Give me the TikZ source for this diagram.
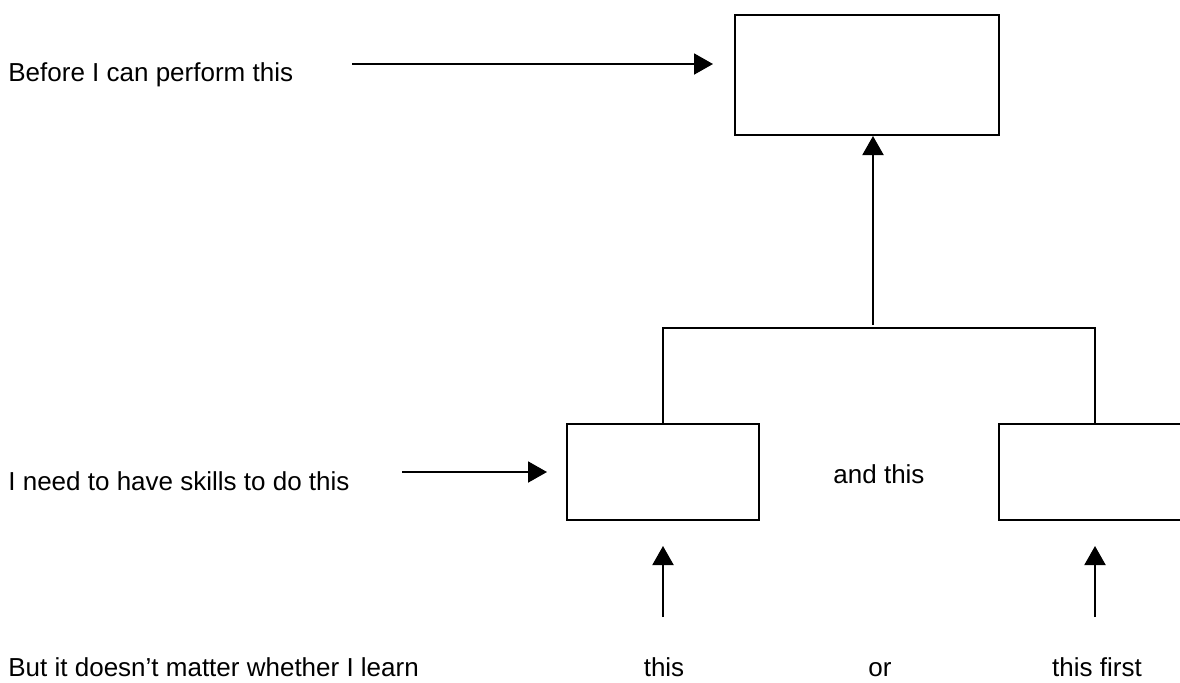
\documentclass[tikz,border=0pt]{standalone}
\usepackage{fontspec}
\setmainfont{Liberation Sans}
\usetikzlibrary{arrows.meta}
\begin{document}
\begin{tikzpicture}[x=0.5pt,y=-0.5pt,
  lbl/.style={inner sep=0pt,anchor=base west,font=\fontsize{13}{15}\selectfont},
  clbl/.style={inner sep=0pt,anchor=base,font=\fontsize{13}{15}\selectfont},
  bx/.style={draw,line width=1pt,inner sep=0pt},
  ln/.style={line width=1pt},
  arr/.style={line width=1pt,-{Triangle[length=9.5pt,width=10.5pt]}}]
\useasboundingbox (0,0) rectangle (1180,682);
\clip (0,0) rectangle (1180,682);
% boxes
\node[bx,minimum width=132pt,minimum height=60pt] (top) at (867,75) {};
\node[bx,minimum width=96pt,minimum height=48pt] (left) at (663,472) {};
\node[bx,minimum width=96pt,minimum height=48pt] (right) at (1095,472) {};
% labels
\node[lbl] (l1) at (8,81) {Before I can perform this};
\node[lbl] (l2) at (8,490) {I need to have skills to do this};
\node[lbl] (l3) at (8,676) {But it doesn’t matter whether I learn};
\node[clbl] (andthis) at (879,483) {and this};
\node[clbl] (this1) at (664,676) {this};
\node[clbl] (or) at (880,676) {or};
\node[clbl] (this2) at (1097,676) {this first};
% connector points
\coordinate (a1s) at (352,64);
\coordinate (a1e) at (713,64);
\coordinate (a2s) at (402,472);
\coordinate (a2e) at (547,472);
\coordinate (j) at (873,325);
\coordinate (bl) at (663,328);
\coordinate (br) at (1095,328);
\coordinate (u1s) at (663,617);
\coordinate (u1e) at (663,546);
\coordinate (u2s) at (1095,617);
\coordinate (u2e) at (1095,546);
% connectors
\draw[arr] (a1s) -- (a1e);
\draw[arr] (a2s) -- (a2e);
\draw[arr] (j) -- (j |- top.south);
\draw[ln] (left.north) -- (bl) -- (br) -- (right.north);
\draw[arr] (u1s) -- (u1e);
\draw[arr] (u2s) -- (u2e);
\end{tikzpicture}
\end{document}
